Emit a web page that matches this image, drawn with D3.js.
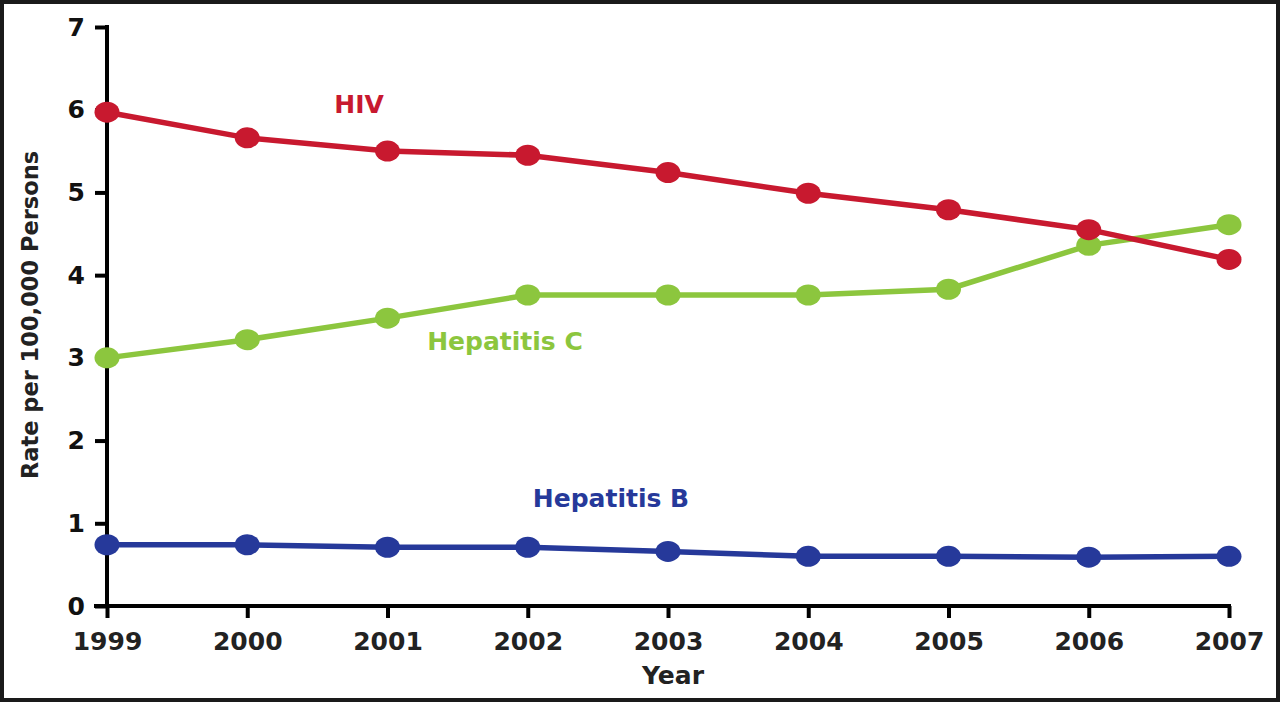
<!DOCTYPE html>
<html><head><meta charset="utf-8">
<script src="https://cdn.jsdelivr.net/npm/d3@7"></script>
<style>
html,body{margin:0;padding:0;background:#fff;}
svg{display:block;font-family:"DejaVu Sans",Arial,Helvetica,sans-serif;font-weight:bold;}
</style></head>
<body><svg id="c" width="1280" height="702"></svg>
<script>
const years = [1999, 2000, 2001, 2002, 2003, 2004, 2005, 2006, 2007];
const hiv   = [5.97, 5.66, 5.50, 5.45, 5.24, 4.99, 4.79, 4.55, 4.19];
const hepC  = [3.00, 3.22, 3.48, 3.76, 3.76, 3.76, 3.83, 4.36, 4.61];
const hepB  = [0.74, 0.74, 0.71, 0.71, 0.66, 0.60, 0.60, 0.59, 0.60];
const yTicks = [0, 1, 2, 3, 4, 5, 6, 7];
const seriesNames = ["HIV", "Hepatitis C", "Hepatitis B"];

const colors = {"HIV": "#c8192f", "Hepatitis C": "#8cc63e", "Hepatitis B": "#26399a"};
const series = [
  {name: "HIV", values: hiv},
  {name: "Hepatitis C", values: hepC},
  {name: "Hepatitis B", values: hepB}
];
const FONT = "DejaVu Sans, Arial, sans-serif";

const svg = d3.select("#c");
svg.append("rect").attr("x", 2).attr("y", 2).attr("width", 1276).attr("height", 698)
  .attr("fill", "#fff").attr("stroke", "#1a1a1a").attr("stroke-width", 4);

const x = d3.scaleLinear().domain([1999, 2007]).range([107, 1229]);
const y = d3.scaleLinear().domain([0, 7]).range([606, 27]);

// y axis
const yAxis = d3.axisLeft(y).tickValues(yTicks).tickFormat(d3.format("d")).tickSize(12).tickPadding(10).tickSizeOuter(0);
const gy = svg.append("g").attr("transform", "translate(107,0)").call(yAxis);
gy.attr("font-family", FONT).attr("font-size", 25);
gy.select(".domain").attr("stroke", "#000").attr("stroke-width", 4).attr("d", `M0,${y(7)-2}V${y(0)}`);
gy.selectAll(".tick line").attr("stroke", "#000").attr("stroke-width", 4);
gy.selectAll(".tick text").attr("font-weight", "bold").attr("fill", "#111");

// x axis
const xAxis = d3.axisBottom(x).tickValues(years).tickFormat(d3.format("d")).tickSize(12).tickPadding(14).tickSizeOuter(0);
const gx = svg.append("g").attr("transform", `translate(0,${y(0)})`).call(xAxis);
gx.attr("font-family", FONT).attr("font-size", 25);
gx.select(".domain").attr("stroke", "#000").attr("stroke-width", 4).attr("d", `M${x(1999)-13},0H${x(2007)+2}`);
gx.selectAll(".tick line").attr("stroke", "#000").attr("stroke-width", 4);
gx.selectAll(".tick text").attr("font-weight", "bold").attr("fill", "#222");

// axis titles
svg.append("text").attr("x", 673).attr("y", 684).attr("text-anchor", "middle")
  .attr("font-size", 25).attr("fill", "#222").text("Year");
svg.append("text").attr("transform", "translate(38,315) rotate(-90)").attr("text-anchor", "middle")
  .attr("font-size", 22.5).attr("fill", "#222").text("Rate per 100,000 Persons");

// lines and markers
const line = d3.line().x((d, i) => x(years[i])).y(d => y(d));
[series[2], series[1], series[0]].forEach(s => {
  const g = svg.append("g");
  g.append("path").datum(s.values).attr("d", line).attr("fill", "none")
    .attr("stroke", colors[s.name]).attr("stroke-width", 5.5);
  g.selectAll("ellipse").data(s.values).join("ellipse")
    .attr("cx", (d, i) => x(years[i])).attr("cy", d => y(d))
    .attr("rx", 12.5).attr("ry", 10.5).attr("fill", colors[s.name]);
});

// series labels
const labelPos = {"HIV": [359, 113], "Hepatitis C": [505, 350], "Hepatitis B": [611, 507]};
seriesNames.forEach(n => {
  svg.append("text").attr("x", labelPos[n][0]).attr("y", labelPos[n][1])
    .attr("text-anchor", "middle").attr("font-size", 25).attr("fill", colors[n]).text(n);
});
</script></body></html>
